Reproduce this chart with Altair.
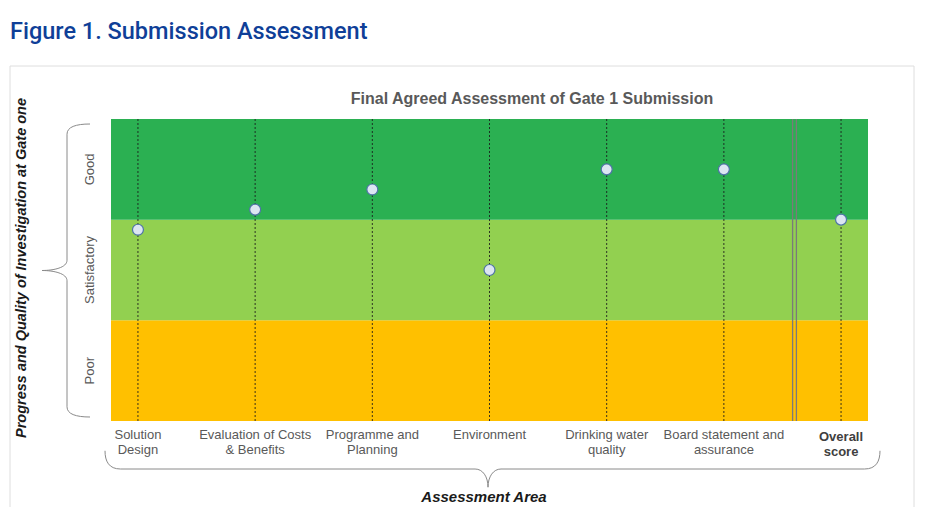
import altair as alt
import pandas as pd

# ---- data ----
categories = [
    "Solution\nDesign",
    "Evaluation of Costs\n& Benefits",
    "Programme and\nPlanning",
    "Environment",
    "Drinking water\nquality",
    "Board statement and\nassurance",
    "Overall\nscore",
]
scores = [1.9, 2.1, 2.3, 1.5, 2.5, 2.5, 2.0]
band_names = ["Poor", "Satisfactory", "Good"]
band_low = [0, 1, 2]
band_high = [1, 2, 3]
band_colors = ["#ffc000", "#92d050", "#2bb052"]

W, H = 757, 302
FONT = "Liberation Sans"

df = pd.DataFrame({
    "idx": list(range(len(categories))),
    "label": categories,
    "score": scores,
    "overall": [i == len(categories) - 1 for i in range(len(categories))],
})
bands = pd.DataFrame({
    "name": band_names,
    "lo": band_low,
    "hi": band_high,
})
bands["mid"] = (bands["lo"] + bands["hi"]) / 2
one = pd.DataFrame({"k": [0]})

xs = alt.Scale(domain=[-0.23, len(categories) - 1 + 0.23], nice=False, zero=False)
ys = alt.Scale(domain=[0, 3], nice=False, zero=True)

band_layer = alt.Chart(bands).mark_rect().encode(
    x=alt.value(0), x2=alt.value(W),
    y=alt.Y("lo:Q", scale=ys, axis=None), y2="hi:Q",
    color=alt.Color("name:N", scale=alt.Scale(domain=band_names, range=band_colors), legend=None),
)

dots = alt.Chart(df).mark_rule(strokeDash=[2, 2], color="#1a1a1a", strokeWidth=1, opacity=0.85).encode(
    x=alt.X("idx:Q", scale=xs, axis=None), y=alt.value(0), y2=alt.value(H),
)

div1 = alt.Chart(one).mark_rule(color="#7a7a7a", strokeWidth=1.3).encode(
    x=alt.value(681.6), y=alt.value(0), y2=alt.value(H))
div2 = alt.Chart(one).mark_rule(color="#7a7a7a", strokeWidth=1.3).encode(
    x=alt.value(685.4), y=alt.value(0), y2=alt.value(H))

points = alt.Chart(df).mark_circle(size=120, color="#dce6f2", stroke="#4f74a6", strokeWidth=1.2, opacity=1).encode(
    x=alt.X("idx:Q", scale=xs, axis=None),
    y=alt.Y("score:Q", scale=ys, axis=None),
)

xlab = alt.Chart(df).transform_filter("!datum.overall").mark_text(
    lineBreak="\n", baseline="middle", align="center", fontSize=13, font=FONT, color="#595959", lineHeight=15
).encode(x=alt.X("idx:Q", scale=xs, axis=None), y=alt.value(316), text="label:N")

xlab_bold = alt.Chart(df).transform_filter("datum.overall").mark_text(
    lineBreak="\n", baseline="middle", align="center", fontSize=13, font=FONT, color="#404040",
    fontWeight="bold", lineHeight=15
).encode(x=alt.X("idx:Q", scale=xs, axis=None), y=alt.value(318), text="label:N")

ylab = alt.Chart(bands).mark_text(
    angle=270, baseline="middle", align="center", fontSize=13, font=FONT, color="#595959"
).encode(x=alt.value(-21), y=alt.Y("mid:Q", scale=ys, axis=None), text="name:N")

left_brace_path = ("M 0.157 -1 C 0.06 -1 0 -0.98 0 -0.93 L 0 -0.07 C 0 -0.02 -0.09 0 -0.17 0 "
                   "C -0.09 0 0 0.02 0 0.07 L 0 0.93 C 0 0.98 0.06 1 0.157 1")
bottom_brace_path = ("M -1 -0.047 C -1 -0.02 -0.99 0 -0.96 0 L -0.045 0 C -0.025 0 -0.0116 0.02 -0.0116 0.047 "
                     "C -0.0116 0.02 0.002 0 0.022 0 L 0.96 0 C 0.99 0 1 -0.02 1 -0.047")

lbrace = alt.Chart(one).mark_point(shape=left_brace_path, filled=False, stroke="#8a8a8a",
                                   strokeWidth=1, size=293 ** 2, opacity=1).encode(
    x=alt.value(-44), y=alt.value(151.5))
bbrace = alt.Chart(one).mark_point(shape=bottom_brace_path, filled=False, stroke="#8a8a8a",
                                   strokeWidth=1, size=775 ** 2, opacity=1).encode(
    x=alt.value(381.5), y=alt.value(350))

box = alt.Chart(one).mark_rect(fillOpacity=0, stroke="#dedede", strokeWidth=1).encode(
    x=alt.value(-101), x2=alt.value(803), y=alt.value(-53), y2=alt.value(420))

fig_title = alt.Chart(one).mark_text(
    text="Figure 1. Submission Assessment", align="left", baseline="middle",
    font="Roboto", fontWeight=500, fontSize=23.5, color="#0f3f98"
).encode(x=alt.value(-101), y=alt.value(-87.5))

chart_title = alt.Chart(one).mark_text(
    text="Final Agreed Assessment of Gate 1 Submission", align="center", baseline="middle",
    font=FONT, fontWeight="bold", fontSize=16, color="#595959"
).encode(x=alt.value(421), y=alt.value(-20.5))

y_title = alt.Chart(one).mark_text(
    text="Progress and Quality of Investigation at Gate one", align="center", baseline="middle",
    angle=270, font=FONT, fontWeight="bold", fontStyle="italic", fontSize=14.5, color="#1a1a1a"
).encode(x=alt.value(-89), y=alt.value(149))

x_title = alt.Chart(one).mark_text(
    text="Assessment Area", align="center", baseline="middle",
    font=FONT, fontWeight="bold", fontStyle="italic", fontSize=15, color="#1a1a1a"
).encode(x=alt.value(373), y=alt.value(378))

chart = alt.layer(
    box, band_layer, dots, div1, div2, points, xlab, xlab_bold, ylab,
    lbrace, bbrace, fig_title, chart_title, y_title, x_title
).properties(
    width=W, height=H,
    padding={"left": 103, "top": 111, "right": 48, "bottom": 86},
    autosize=alt.AutoSizeParams(type="none"),
    background="white",
).configure_view(stroke=None)

chart.save("out.html", embed_options={"renderer": "svg", "actions": False})
